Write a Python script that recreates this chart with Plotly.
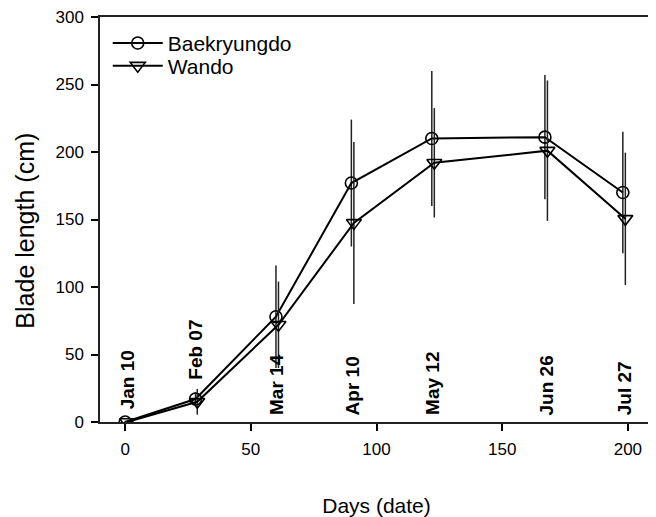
import plotly.graph_objects as go

# ---- data ----
days_baek = [0, 28, 60, 90, 122, 167, 198]
len_baek = [0, 17, 78, 177, 210, 211, 170]
err_baek = [1, 5, 38, 47, 50, 46, 45]

days_wando = [0.8, 28.7, 61, 91, 123, 168, 199]
len_wando = [0, 15, 72, 147.5, 192, 201, 150.5]
err_wando = [1, 9.5, 32, 60, 40.5, 52, 49]

date_labels = ["Jan 10", "Feb 07", "Mar 14", "Apr 10", "May 12", "Jun 26", "Jul 27"]
date_label_x = [1, 28, 60.5, 90.5, 122.3, 167.5, 199]
date_label_y = [8, 29.5, 3.5, 3.5, 3.8, 3.5, 3.8]

x_ticks = [0, 50, 100, 150, 200]
y_ticks = [0, 50, 100, 150, 200, 250, 300]

FONT = "Liberation Sans, Arial, sans-serif"

fig = go.Figure()

fig.add_trace(go.Scatter(
    x=days_baek, y=len_baek, name="Baekryungdo", mode="lines+markers",
    line=dict(color="black", width=2),
    marker=dict(symbol="circle-open", size=12, color="black", line=dict(width=1.6)),
    error_y=dict(type="data", array=err_baek, visible=True, color="#222222",
                 thickness=1.5, width=0),
    legend="legend",
))
fig.add_trace(go.Scatter(
    x=days_wando, y=len_wando, name="Wando", mode="lines+markers",
    line=dict(color="black", width=2),
    marker=dict(symbol="triangle-down-open", size=13, color="black", line=dict(width=1.6)),
    error_y=dict(type="data", array=err_wando, visible=True, color="#222222",
                 thickness=1.5, width=0),
    legend="legend2",
))

for t, xv, yv in zip(date_labels, date_label_x, date_label_y):
    fig.add_annotation(x=xv, y=yv, text="<b>" + t + "</b>", showarrow=False,
                       textangle=-90, xanchor="center", yanchor="bottom",
                       font=dict(family=FONT, size=19, color="black"))

# y-axis title (placed as annotation to match vertical offset of the original)
fig.add_annotation(x=-0.136, y=0.472, xref="paper", yref="paper",
                   text="Blade length (cm)", showarrow=False, textangle=-90,
                   xanchor="center", yanchor="middle",
                   font=dict(family=FONT, size=25, color="black"))

leg_common = dict(xanchor="left", yanchor="middle", bgcolor="rgba(0,0,0,0)",
                  font=dict(size=21, family=FONT), itemwidth=50)

fig.update_layout(
    width=648, height=509,
    margin=dict(l=92, r=3, t=9, b=95),
    plot_bgcolor="white", paper_bgcolor="white",
    font=dict(family=FONT, color="black"),
    showlegend=True,
    legend=dict(x=0.014, y=0.935, **leg_common),
    legend2=dict(x=0.014, y=0.879, **leg_common),
)
fig.update_xaxes(
    range=[-10, 210], tickvals=x_ticks, ticks="outside", ticklen=7, tickwidth=1.5,
    tickcolor="black", showline=True, linecolor="#222222", linewidth=1.5, mirror=True,
    showgrid=False, zeroline=False, tickfont=dict(size=17, family=FONT),
    ticklabelstandoff=4, ticklabeloverflow="allow",
    title=dict(text="Days (date)", font=dict(size=21, family=FONT), standoff=43),
    automargin=False,
)
fig.update_yaxes(
    range=[0, 300], tickvals=y_ticks, ticks="outside", ticklen=7, tickwidth=1.5,
    tickcolor="black", showline=True, linecolor="#222222", linewidth=1.5, mirror=True,
    showgrid=False, zeroline=False, tickfont=dict(size=17, family=FONT),
    ticklabelstandoff=4, ticklabeloverflow="allow",
    automargin=False,
)

fig.write_html("out.html")
